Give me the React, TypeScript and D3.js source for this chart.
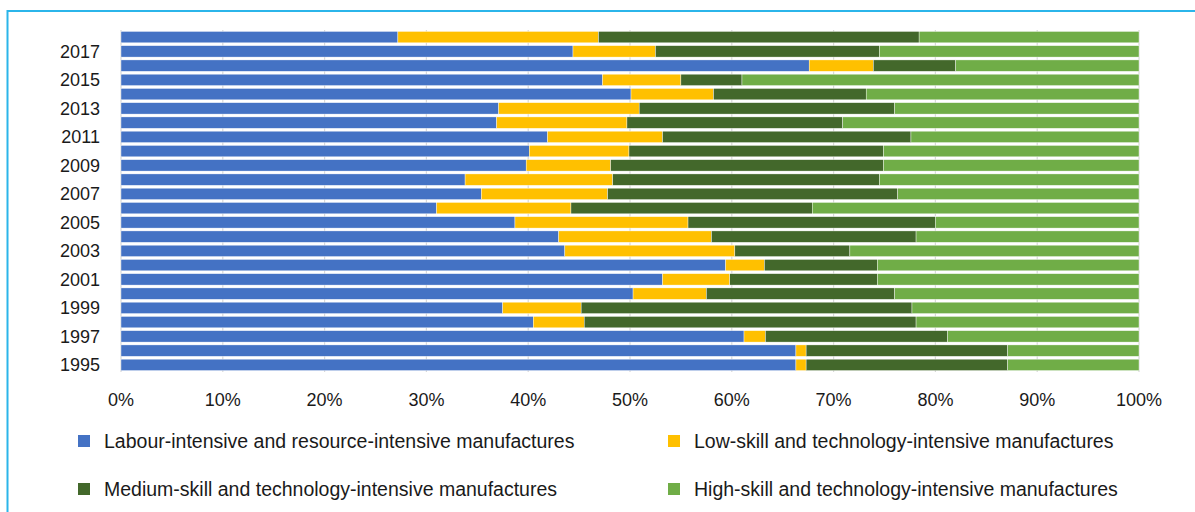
import React, { useRef, useEffect } from 'react';
import * as d3 from 'd3';

const years = ['1995', '1996', '1997', '1998', '1999', '2000', '2001', '2002', '2003', '2004', '2005', '2006',
    '2007', '2008', '2009', '2010', '2011', '2012', '2013', '2014', '2015', '2016', '2017', '2018'];

const labour = [66.3, 66.3, 61.2, 40.5, 37.5, 50.3, 53.2, 59.4, 43.6, 43.0, 38.7, 31.0,
    35.4, 33.8, 39.8, 40.1, 41.9, 36.9, 37.1, 50.1, 47.3, 67.6, 44.4, 27.2];
const lowSkill = [1.0, 1.0, 2.1, 5.0, 7.7, 7.2, 6.6, 3.8, 16.7, 15.0, 17.0, 13.2,
    12.4, 14.5, 8.3, 9.8, 11.3, 12.8, 13.8, 8.1, 7.7, 6.3, 8.1, 19.7];
const mediumSkill = [19.8, 19.8, 17.9, 32.6, 32.5, 18.5, 14.5, 11.1, 11.3, 20.1, 24.3, 23.7,
    28.5, 26.2, 26.8, 25.0, 24.4, 21.2, 25.1, 15.0, 6.0, 8.1, 22.0, 31.5];
const highSkill = [12.9, 12.9, 18.8, 21.9, 22.3, 24.0, 25.7, 25.7, 28.4, 21.9, 20.0, 32.1,
    23.7, 25.5, 25.1, 25.1, 22.4, 29.1, 24.0, 26.8, 39.0, 18.0, 25.5, 21.6];

const seriesNames = [
    'Labour-intensive and resource-intensive manufactures',
    'Low-skill and technology-intensive manufactures',
    'Medium-skill and technology-intensive manufactures',
    'High-skill and technology-intensive manufactures',
];
const seriesColors = ['#4472C4', '#FFC000', '#43682B', '#70AD47'];
const xTicks = [0, 0.1, 0.2, 0.3, 0.4, 0.5, 0.6, 0.7, 0.8, 0.9, 1];

const width = 1195;
const height = 512;
const font = '"Liberation Sans", Arial, sans-serif';

const App: React.FC = () => {
    const ref = useRef<SVGSVGElement>(null);

    useEffect(() => {
        if (!ref.current) return;
        const svg = d3.select(ref.current);
        svg.selectAll('*').remove();

        const keys = ['labour', 'low', 'medium', 'high'];
        const rows = years.map((year, i) => ({
            year,
            labour: labour[i],
            low: lowSkill[i],
            medium: mediumSkill[i],
            high: highSkill[i],
        }));

        const stack = d3.stack<any>().keys(keys).offset(d3.stackOffsetExpand);
        const layers = stack(rows);

        const x = d3.scaleLinear().domain([0, 1]).range([121, 1139]);
        const y = d3.scaleBand<string>()
            .domain([...years].reverse())
            .range([30, 372])
            .paddingInner(0.2)
            .paddingOuter(0.1);
        const color = d3.scaleOrdinal<string, string>().domain(keys).range(seriesColors);

        // frame
        svg.append('path')
            .attr('d', `M7.5,${height} L7.5,11 L${width},11`)
            .attr('fill', 'none')
            .attr('stroke', '#2BB5EA')
            .attr('stroke-width', 2);

        // gridlines
        svg.append('g')
            .selectAll('line')
            .data(xTicks)
            .enter()
            .append('line')
            .attr('x1', d => x(d))
            .attr('x2', d => x(d))
            .attr('y1', 30)
            .attr('y2', 372)
            .attr('stroke', '#D9D9D9')
            .attr('stroke-width', 1.2);

        // bars
        svg.append('g')
            .selectAll('g')
            .data(layers)
            .enter()
            .append('g')
            .attr('fill', d => color(d.key))
            .selectAll('rect')
            .data(d => d)
            .enter()
            .append('rect')
            .attr('x', d => x(d[0]))
            .attr('width', d => x(d[1]) - x(d[0]))
            .attr('y', d => y(d.data.year) as number)
            .attr('height', y.bandwidth())
            .attr('stroke', '#ffffff')
            .attr('stroke-width', 0.4);

        // y labels (every other year)
        svg.append('g')
            .selectAll('text')
            .data(years.filter((_, i) => i % 2 === 0))
            .enter()
            .append('text')
            .attr('x', 100)
            .attr('y', d => (y(d) as number) + y.bandwidth() / 2)
            .attr('dy', '0.35em')
            .attr('text-anchor', 'end')
            .attr('font-family', font)
            .attr('font-size', 18)
            .attr('fill', '#1a1a1a')
            .text(d => d);

        // x labels
        svg.append('g')
            .selectAll('text')
            .data(xTicks)
            .enter()
            .append('text')
            .attr('x', d => x(d))
            .attr('y', 400)
            .attr('dy', '0.35em')
            .attr('text-anchor', 'middle')
            .attr('font-family', font)
            .attr('font-size', 18)
            .attr('fill', '#1a1a1a')
            .text(d => d3.format('.0%')(d));

        // legend
        const legendPos = [[78, 441], [668, 441], [78, 489], [668, 489]];
        const legend = svg.append('g')
            .selectAll('g')
            .data(seriesNames)
            .enter()
            .append('g')
            .attr('transform', (d, i) => `translate(${legendPos[i][0]},${legendPos[i][1]})`);
        legend.append('rect')
            .attr('x', 0)
            .attr('y', -6)
            .attr('width', 12)
            .attr('height', 12)
            .attr('fill', (d, i) => seriesColors[i]);
        legend.append('text')
            .attr('x', 26)
            .attr('y', 0)
            .attr('dy', '0.35em')
            .attr('font-family', font)
            .attr('font-size', 19.5)
            .attr('fill', '#1a1a1a')
            .text(d => d);
    }, []);

    return (
        <svg ref={ref} width={width} height={height}
            style={{ position: 'absolute', left: 0, top: 0, background: '#ffffff' }}></svg>
    );
};

export default App;
